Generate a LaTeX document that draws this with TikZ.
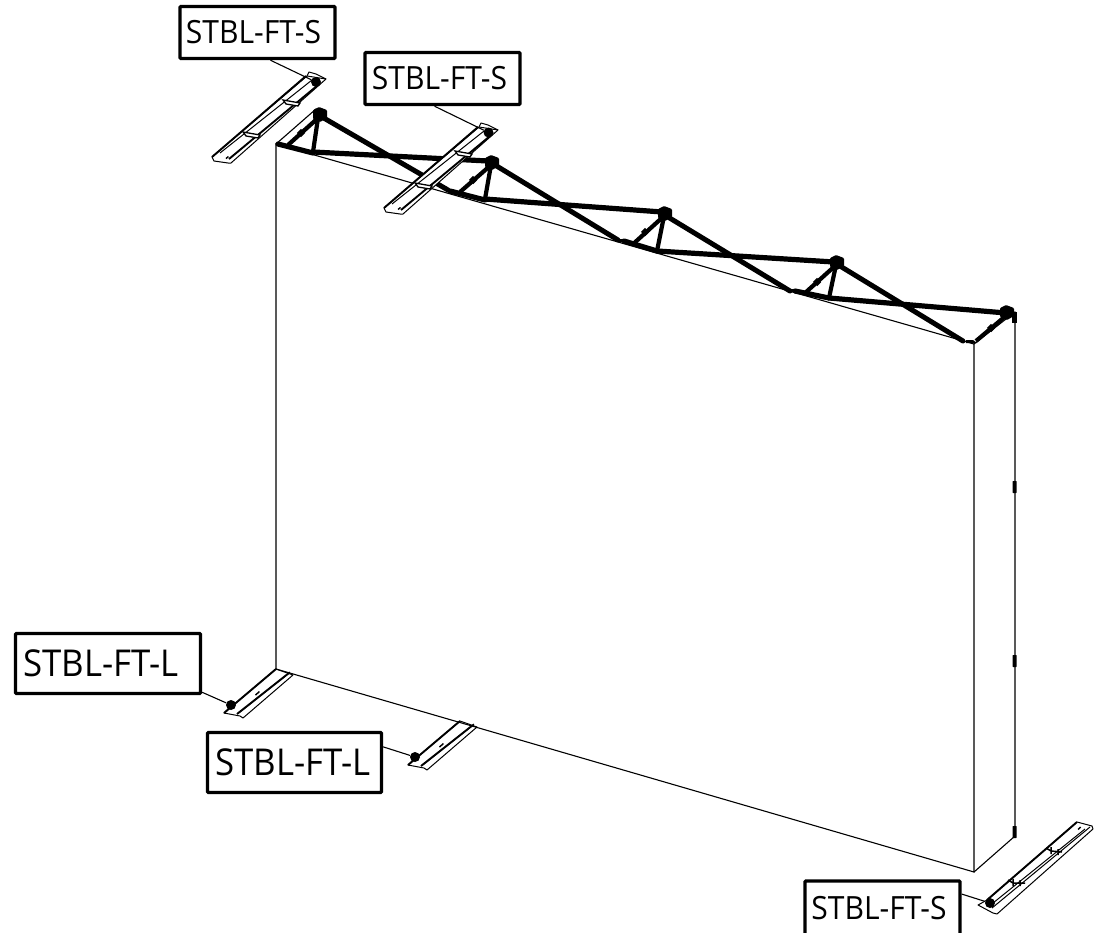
\documentclass[tikz,border=0pt]{standalone}
\usepackage{fontspec}
\setmainfont[FakeStretch=0.94]{Open Sans}
\usetikzlibrary{calc}
\tikzset{
  lab/.style={draw=black,line width=3.4pt,rounded corners=1pt,fill=white,inner sep=0pt,align=center},
  labS/.style={lab,font=\fontsize{32}{35}\selectfont,minimum width=155pt,minimum height=52pt},
  labL/.style={lab,font=\fontsize{37}{40}\selectfont},
  thin line/.style={line width=1.1pt,line cap=round},
  lead/.style={line width=1.1pt},
  chord/.style={line width=5.2pt,line cap=round},
  web/.style={line width=5pt,line cap=round},
  strut/.style={line width=4.2pt},
  dotn/.style={circle,fill=black,inner sep=0pt,minimum size=10pt},
  br/.style={line width=1pt,line join=round},
  brk/.style={line width=1.9pt,line join=round},
  sbracket/.pic={
    \draw[br,fill=white] (212,157)--(214,161)--(228,163)--(231,163)--(326,79)--(316,74)--(309,72)--(307,76)--cycle;
    \draw[brk] (212,157)--(306,76);
    \draw[br] (220,153)--(312,80);
    \draw[brk] (229,159)--(318,85);
    \draw[br] (307,76)--(326,79);
    \draw[line width=1.3pt,fill=white] (243,132)--(246,136)--(258,138)--(260,135)--cycle;
    \draw[line width=1.3pt,fill=white] (283,100)--(286,104)--(298,106)--(300,103)--cycle;
    \fill (225.5,158) -- (228,156) -- (229,157) -- (226.5,159) -- cycle;
  },
  lbracket/.pic={
    \draw[br,fill=white] (224,713)--(240,716)--(243,718)--(293,675)--(276,669)--cycle;
    \draw[brk] (224,713)--(276,669);
    \draw[brk] (237,714)--(289,673);
    \draw[br] (240,712)--(290,672);
    \fill (255,694.5)--(259,691)--(260,692)--(256,695.5)--cycle;
  },
}
\begin{document}
\begin{tikzpicture}[x=1pt,y=-1pt]
\useasboundingbox (0,0) rectangle (1103,932);
\clip (0,0) rectangle (1103,932);
\fill[white] (0,0) rectangle (1103,932);

% panel outline
\coordinate (tl) at (276,144);
\coordinate (bl) at (276,669);
\coordinate (br) at (974,872);
\coordinate (tr) at (974,344);
\coordinate (btr) at (1015,312);
\coordinate (bbr) at (1015,836);
\coordinate (btl) at (316,109);

% lower brackets behind
\pic at (0,0) {lbracket};
\pic at (184,52) {lbracket};

\draw[thin line] (tl)--(bl)--(br)--(tr)--cycle;
\draw[thin line] (tr)--(btr);
\draw[thin line] (btr)--(bbr)--(br);
\draw[thin line] (tl)--(btl);

% wall bumps
\foreach \y in {487,661,832} \fill[rounded corners=.5pt] (1012.5,\y-6)rectangle(1016.5,\y+6);
\fill (1012,312)rectangle(1017,323);

% truss: top chord runs
\draw[chord] (313,152)--(488,161);
\draw[chord] (485,199)--(662,212);
\draw[chord] (657,251)--(834,262);
\draw[chord] (829,298)--(1006,313);
\draw[chord] (278,144)--(313,153);
\draw[chord] (450,191)--(485,200);
\draw[chord] (624,241)--(657,251);
\draw[chord] (795,291)--(829,298);
% diagonals
\draw[web] (322,117)--(448,190);
\draw[web] (495,165)--(618,240);
\draw[web] (668,217)--(790,291);
\draw[web] (840,266)--(963,341);
% short struts
\draw[strut] (318,118)--(313,152);
\draw[strut] (491,165)--(485,199);
\draw[strut] (664,216)--(657,251);
\draw[strut] (836,265)--(829,298);
\draw[strut] (318,118)--(288,145);
\draw[strut] (491,165)--(460,192);
\draw[strut] (664,216)--(632,245);
\draw[strut] (836,265)--(805,293);
\draw[strut] (1008,314)--(976,341);
% bulges on struts
\foreach \x/\y in {301/133,473/180,645/232,817/282,991/328}
  \draw[line width=6pt] (\x-2,\y+2)--(\x+2,\y-2);
% node blocks
\foreach \x/\y in {320/115,492/163,665/214,837/263,1007/313}
  \fill[rounded corners=1pt] (\x-7,\y-5)--(\x-1,\y-8)--(\x+7,\y-5)--(\x+7,\y+3)--(\x,\y+7)--(\x-7,\y+4)--cycle;
% feet
\foreach \x/\y in {451/191,624/241,796/291,971/342}
  \fill (\x-5,\y-2)--(\x+2,\y-2)--(\x+6,\y+1)--(\x-5,\y+1)--cycle;

% top brackets
\pic at (0,0) {sbracket};
\pic at (172,51) {sbracket};

% bottom right bracket
\draw[br,fill=white] (978,905)--(993,913)--(997,914)--(1093,829)--(1092,826)--(1077,822)--(987,900)--cycle;
\draw[brk] (987,900)--(1077,822);
\draw[br] (993,903)--(1085,829);
\draw[br] (992,908)--(1090,827);
\draw[line width=1.5pt] (1008,880)--(1013,883)--(1025,883) (1013,879)--(1013,886) (1020,880)--(1020,886);
\draw[line width=1.5pt] (1046,848)--(1051,851)--(1062,852) (1051,847)--(1051,854) (1058,849)--(1058,855);
\fill (1077.5,829)--(1080,826.5)--(1081,827.5)--(1078.5,830)--cycle;

% dots
\node[dotn] (d1) at (316,82) {};
\node[dotn] (d2) at (488.5,132.5) {};
\node[dotn] (d3) at (231,705) {};
\node[dotn] (d4) at (415,757) {};
\node[dotn] (d5) at (990,903) {};

% labels
\node[labS] (l1) at (257.5,32.5) {STBL-FT-S\kern8pt};
\node[labS] (l2) at (442.5,78.5) {STBL-FT-S\kern6pt};
\node[labL,minimum width=185pt,minimum height=60pt] (l3) at (108,663.5) {STBL-FT-L\kern14pt};
\node[labL,minimum width=174pt,minimum height=60pt] (l4) at (294.5,762.5) {STBL-FT-L\kern3pt};
\node[labS,minimum height=54pt] (l5) at (882.5,908) {STBL-FT-S\kern7pt};

% leaders
\draw[lead] (l1.-65)--(d1);
\draw[lead] (l2.-106)--(d2);
\draw[lead] (l3.-17)--(d3);
\draw[lead] (l4.10)--(d4);
\draw[lead] (l5.10)--(d5);
\end{tikzpicture}
\end{document}
